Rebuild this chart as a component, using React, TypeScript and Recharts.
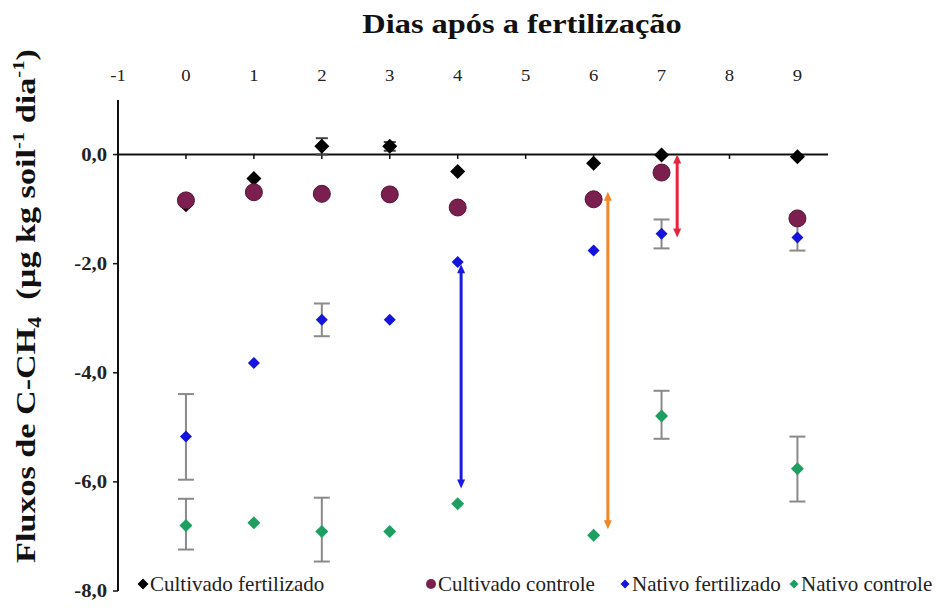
import React from 'react';
import { ComposedChart, Scatter, XAxis, YAxis, ErrorBar, ReferenceLine } from 'recharts';

// ---- data ----
const dayTicks = [-1, 0, 1, 2, 3, 4, 5, 6, 7, 8, 9];
const yTicks = [0, -2, -4, -6, -8];

const cultFertDays = [0, 1, 2, 3, 4, 6, 7, 9];
const cultFertFlux = [-0.92, -0.44, 0.15, 0.15, -0.31, -0.16, -0.01, -0.04];
const cultFertErrLow = [0, 0, 0.15, 0.08, 0, 0, 0, 0];
const cultFertErrHigh = [0, 0, 0.15, 0.08, 0, 0, 0, 0];

const cultCtrlDays = [0, 1, 2, 3, 4, 6, 7, 9];
const cultCtrlFlux = [-0.84, -0.69, -0.72, -0.73, -0.97, -0.82, -0.33, -1.17];
const cultCtrlErrLow = [0, 0, 0, 0, 0, 0, 0, 0];
const cultCtrlErrHigh = [0, 0, 0, 0, 0, 0, 0, 0];

const natFertDays = [0, 1, 2, 3, 4, 6, 7, 9];
const natFertFlux = [-5.17, -3.82, -3.03, -3.03, -1.97, -1.76, -1.45, -1.52];
const natFertErrLow = [0.79, 0, 0.3, 0, 0, 0, 0.27, 0.24];
const natFertErrHigh = [0.78, 0, 0.3, 0, 0, 0, 0.26, 0.3];

const natCtrlDays = [0, 1, 2, 3, 4, 6, 7, 9];
const natCtrlFlux = [-6.8, -6.75, -6.91, -6.91, -6.4, -6.98, -4.79, -5.76];
const natCtrlErrLow = [0.44, 0, 0.55, 0, 0, 0, 0.42, 0.6];
const natCtrlErrHigh = [0.49, 0, 0.62, 0, 0, 0, 0.46, 0.59];

const arrowDays = [4.05, 6.21, 7.23];
const arrowFrom = [-2.01, -0.68, 0.0];
const arrowTo = [-6.12, -6.87, -1.52];
const arrowColors = ['#1a1ae0', '#f0882a', '#e6223c'];

const seriesNames = ['Cultivado fertilizado', 'Cultivado controle', 'Nativo fertilizado', 'Nativo controle'];
const seriesColors = ['#000000', '#7a1f4e', '#1414dc', '#1f9e62'];

const build = (days: number[], flux: number[], lo: number[], hi: number[]) =>
  days.map((d, i) => ({
    x: d,
    y: flux[i],
    err: lo[i] + hi[i] > 0 ? [lo[i], hi[i]] : null,
  }));

const cultFert = build(cultFertDays, cultFertFlux, cultFertErrLow, cultFertErrHigh);
const cultCtrl = build(cultCtrlDays, cultCtrlFlux, cultCtrlErrLow, cultCtrlErrHigh);
const natFert = build(natFertDays, natFertFlux, natFertErrLow, natFertErrHigh);
const natCtrl = build(natCtrlDays, natCtrlFlux, natCtrlErrLow, natCtrlErrHigh);

const FONT = '"Liberation Serif", "Times New Roman", serif';

const diamond = (r: number, color: string) => (props: any) => {
  const { cx, cy } = props;
  if (cx == null || cy == null) return null;
  return (
    <polygon
      points={`${cx},${cy - r} ${cx + r},${cy} ${cx},${cy + r} ${cx - r},${cy}`}
      fill={color}
    />
  );
};

const circle = (r: number, color: string) => (props: any) => {
  const { cx, cy } = props;
  if (cx == null || cy == null) return null;
  return <circle cx={cx} cy={cy} r={r} fill={color} stroke="#5a1236" strokeWidth={1} />;
};

const arrowShape = (color: string) => (props: any) => {
  const { x1, y1, x2, y2 } = props;
  if (x1 == null) return null;
  const x = (x1 + x2) / 2;
  const top = Math.min(y1, y2);
  const bot = Math.max(y1, y2);
  const h = 9;
  const w = 4;
  return (
    <g>
      <line x1={x} y1={top + h - 1} x2={x} y2={bot - h + 1} stroke={color} strokeWidth={3} />
      <polygon points={`${x},${top} ${x - w},${top + h} ${x + w},${top + h}`} fill={color} />
      <polygon points={`${x},${bot} ${x - w},${bot - h} ${x + w},${bot - h}`} fill={color} />
    </g>
  );
};

const YTick = (props: any) => {
  const { x, y, payload } = props;
  const label = Number(payload.value).toFixed(1).replace('.', ',');
  return (
    <text
      transform={`translate(${x},${y}) scale(1.15,1)`}
      textAnchor="end"
      dominantBaseline="central"
      fontFamily={FONT}
      fontWeight="bold"
      fontSize={18}
      fill="#222"
    >
      {label}
    </text>
  );
};

const XTick = (props: any) => {
  const { x, y, payload } = props;
  return (
    <text
      transform={`translate(${x},${y}) scale(1.1,1)`}
      textAnchor="middle"
      dominantBaseline="central"
      fontFamily={FONT}
      fontSize={17}
      fill="#222"
    >
      {payload.value}
    </text>
  );
};

const TitleLabel = () => (
  <text
    transform="translate(522,33) scale(1.2,1)"
    textAnchor="middle"
    fontFamily={FONT}
    fontWeight="bold"
    fontSize={27}
    fill="#111"
  >
    Dias após a fertilização
  </text>
);

const YLabel = () => (
  <text
    transform="translate(35,306) rotate(-90) scale(1.22,1)"
    textAnchor="middle"
    fontFamily={FONT}
    fontWeight="bold"
    fontSize={28}
    fill="#111"
  >
    <tspan>Fluxos de C-CH</tspan>
    <tspan fontSize={18} dy={6}>4</tspan>
    <tspan dy={-6}>{'\u00a0 (µg kg soil'}</tspan>
    <tspan fontSize={17} dy={-11}>-1</tspan>
    <tspan dy={11}>{' dia'}</tspan>
    <tspan fontSize={17} dy={-11}>-1</tspan>
    <tspan dy={11}>)</tspan>
  </text>
);

const legendMarkerX = [143, 431, 625, 794];

const LegendMarker = ({ i }: { i: number }) => {
  const c = seriesColors[i];
  if (i === 1) return <svg width={12} height={12}><circle cx={6} cy={6} r={5} fill={c} /></svg>;
  const r = i === 0 ? 5.5 : 4.5;
  return (
    <svg width={12} height={12}>
      <polygon points={`6,${6 - r} ${6 + r},6 6,${6 + r} ${6 - r},6`} fill={c} />
    </svg>
  );
};

export default function App() {
  return (
    <div style={{ position: 'absolute', left: 0, top: 0, width: 937, height: 608, background: '#fff' }}>
      <ComposedChart
        width={937}
        height={608}
        margin={{ top: 70, right: 109, bottom: 17, left: 68 }}
      >
        <XAxis
          xAxisId={0}
          type="number"
          dataKey="x"
          orientation="top"
          domain={[-1, 9.45]}
          ticks={dayTicks}
          allowDataOverflow
          axisLine={false}
          tickLine={false}
          tickSize={0}
          tickMargin={25}
          height={30}
          tick={<XTick />}
          label={<TitleLabel />}
        />
        <YAxis
          yAxisId={0}
          type="number"
          dataKey="y"
          domain={[-8, 1]}
          ticks={yTicks}
          allowDataOverflow
          width={50}
          axisLine={{ stroke: '#111', strokeWidth: 2 }}
          tickLine={{ stroke: '#111', strokeWidth: 1.5 }}
          tickSize={5}
          tickMargin={6}
          tick={<YTick />}
          label={<YLabel />}
        />
        <ReferenceLine y={0} stroke="#111" strokeWidth={2} ifOverflow="extendDomain" />
        {dayTicks.map((d) => (
          <ReferenceLine
            key={`t${d}`}
            segment={[{ x: d, y: 0 }, { x: d, y: -0.08 }]}
            stroke="#111"
            strokeWidth={1.5}
          />
        ))}
        <Scatter
          name={seriesNames[3]}
          data={natCtrl}
          fill={seriesColors[3]}
          shape={diamond(6.5, seriesColors[3])}
          isAnimationActive={false}
        >
          <ErrorBar dataKey="err" direction="y" width={8} stroke="#8a8a8a" strokeWidth={2} />
        </Scatter>
        <Scatter
          name={seriesNames[2]}
          data={natFert}
          fill={seriesColors[2]}
          shape={diamond(6, seriesColors[2])}
          isAnimationActive={false}
        >
          <ErrorBar dataKey="err" direction="y" width={8} stroke="#8a8a8a" strokeWidth={2} />
        </Scatter>
        <Scatter
          name={seriesNames[0]}
          data={cultFert}
          fill={seriesColors[0]}
          shape={diamond(7.5, seriesColors[0])}
          isAnimationActive={false}
        >
          <ErrorBar dataKey="err" direction="y" width={6} stroke="#444" strokeWidth={2} />
        </Scatter>
        <Scatter
          name={seriesNames[1]}
          data={cultCtrl}
          fill={seriesColors[1]}
          shape={circle(8.5, seriesColors[1])}
          isAnimationActive={false}
        >
          <ErrorBar dataKey="err" direction="y" width={6} stroke="#333" strokeWidth={2} />
        </Scatter>
        {arrowDays.map((d, i) => (
          <ReferenceLine
            key={`a${i}`}
            segment={[{ x: d, y: arrowFrom[i] }, { x: d, y: arrowTo[i] }]}
            stroke={arrowColors[i]}
            shape={arrowShape(arrowColors[i])}
          />
        ))}
      </ComposedChart>
      {seriesNames.map((name, i) => (
        <div
          key={name}
          style={{
            position: 'absolute',
            left: legendMarkerX[i] - 6,
            top: 572,
            display: 'flex',
            alignItems: 'center',
            fontFamily: FONT,
            fontSize: 21,
            lineHeight: '24px',
            color: '#222',
            whiteSpace: 'nowrap',
          }}
        >
          <LegendMarker i={i} />
          <span style={{ marginLeft: 1 }}>{name}</span>
        </div>
      ))}
    </div>
  );
}
